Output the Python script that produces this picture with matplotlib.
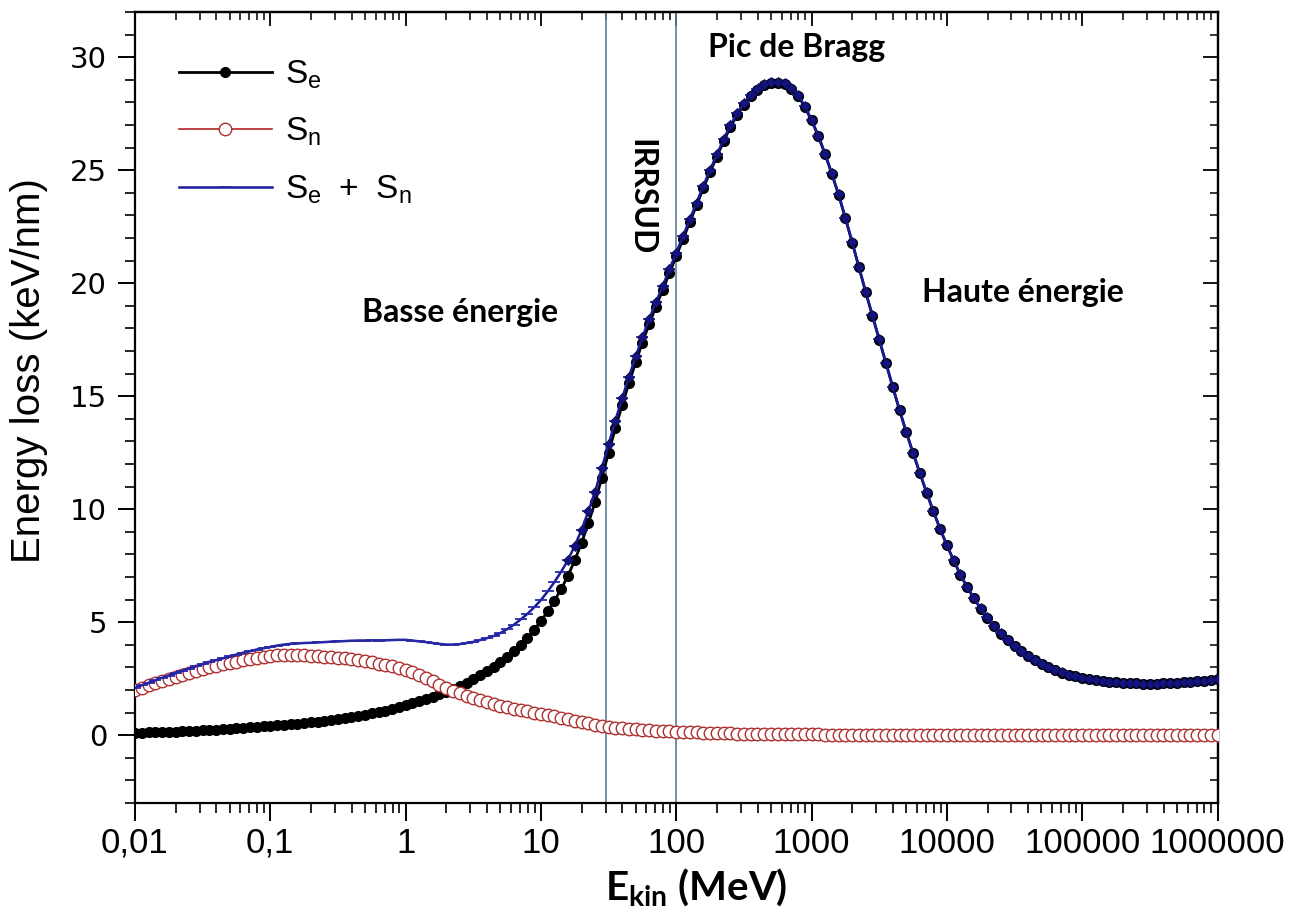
import numpy as np
import matplotlib
matplotlib.use("Agg")
import matplotlib.pyplot as plt
from matplotlib.ticker import FixedLocator, LogLocator, NullFormatter, MultipleLocator
from matplotlib.patches import Rectangle
import matplotlib.font_manager as fm

# ---------------- data ----------------
log_e_start, log_e_stop, n_points = -2.0, 6.0, 161
energy_mev = np.logspace(log_e_start, log_e_stop, n_points)   # 0.05-decade grid

se_kev_nm = [0.10, 0.11, 0.12, 0.13, 0.14, 0.15, 0.16, 0.175, 0.19, 0.205,
             0.22, 0.235, 0.25, 0.27, 0.29, 0.31, 0.33, 0.35, 0.37, 0.39,
             0.41, 0.435, 0.46, 0.485, 0.51, 0.54, 0.57, 0.605, 0.64, 0.68,
             0.72, 0.765, 0.81, 0.86, 0.91, 0.965, 1.02, 1.09, 1.16, 1.24,
             1.32, 1.41, 1.50, 1.60, 1.70, 1.81, 1.93, 2.05, 2.18, 2.33,
             2.48, 2.65, 2.82, 3.01, 3.22, 3.46, 3.72, 4.01, 4.32, 4.67,
             5.05, 5.48, 5.95, 6.48, 7.05, 7.75, 8.50, 9.38, 10.30, 11.40,
             12.50, 13.58, 14.60, 15.57, 16.50, 17.37, 18.20, 18.96, 19.70, 20.45,
             21.20, 21.95, 22.70, 23.45, 24.20, 24.92, 25.60, 26.28, 26.90, 27.45,
             27.90, 28.27, 28.55, 28.75, 28.85, 28.87, 28.80, 28.60, 28.30, 27.80,
             27.20, 26.50, 25.70, 24.83, 23.90, 22.87, 21.80, 20.70, 19.60, 18.55,
             17.50, 16.45, 15.40, 14.38, 13.40, 12.48, 11.60, 10.73, 9.90, 9.12,
             8.40, 7.73, 7.10, 6.55, 6.05, 5.60, 5.20, 4.83, 4.50, 4.21,
             3.95, 3.71, 3.50, 3.31, 3.15, 3.01, 2.88, 2.77, 2.68, 2.60,
             2.54, 2.49, 2.44, 2.40, 2.37, 2.34, 2.32, 2.30, 2.29, 2.28,
             2.28, 2.28, 2.29, 2.30, 2.32, 2.34, 2.36, 2.38, 2.41, 2.44,
             2.47]

sn_kev_nm = [2.00, 2.10, 2.20, 2.30, 2.40, 2.49, 2.58, 2.67, 2.76, 2.84,
             2.92, 3.00, 3.07, 3.14, 3.20, 3.26, 3.32, 3.37, 3.42, 3.46,
             3.50, 3.53, 3.55, 3.56, 3.55, 3.54, 3.52, 3.50, 3.48, 3.46,
             3.43, 3.40, 3.37, 3.33, 3.28, 3.23, 3.17, 3.11, 3.05, 2.98,
             2.90, 2.78, 2.65, 2.52, 2.38, 2.23, 2.08, 1.96, 1.85, 1.75,
             1.65, 1.56, 1.47, 1.38, 1.30, 1.23, 1.17, 1.11, 1.05, 0.99,
             0.93, 0.88, 0.83, 0.76, 0.70, 0.64, 0.58, 0.52, 0.47, 0.42,
             0.38, 0.34, 0.31, 0.28, 0.26, 0.24, 0.22, 0.20, 0.18, 0.165,
             0.15, 0.14, 0.13, 0.12, 0.11, 0.10, 0.095, 0.088, 0.08, 0.075,
             0.07, 0.065, 0.06, 0.055, 0.05, 0.048, 0.045, 0.042, 0.04, 0.038,
             0.035, 0.032, 0.030, 0.029, 0.028, 0.026, 0.025, 0.024, 0.022, 0.021,
             0.020, 0.019, 0.018, 0.017, 0.016, 0.015, 0.015, 0.014, 0.013, 0.012,
             0.012, 0.011, 0.011, 0.010, 0.010, 0.009, 0.009, 0.008, 0.008, 0.008,
             0.008, 0.007, 0.007, 0.007, 0.007, 0.006, 0.006, 0.006, 0.006, 0.005,
             0.005, 0.005, 0.005, 0.005, 0.005, 0.004, 0.004, 0.004, 0.004, 0.004,
             0.004, 0.003, 0.003, 0.003, 0.003, 0.003, 0.003, 0.003, 0.003, 0.003,
             0.003]

assert len(se_kev_nm) == n_points and len(sn_kev_nm) == n_points

# total stopping power = electronic + nuclear
total_kev_nm = [a + b for a, b in zip(se_kev_nm, sn_kev_nm)]

series_labels = [r'$\mathregular{S_e}$', r'$\mathregular{S_n}$', r'$\mathregular{S_e\ +\ S_n}$']
x_tick_values = [0.01, 0.1, 1, 10, 100, 1000, 10000, 100000, 1000000]
x_tick_labels = ['0,01', '0,1', '1', '10', '100', '1000', '10000', '100000', '1000000']
y_tick_values = [0, 5, 10, 15, 20, 25, 30]
irrsud_range = (30, 100)

# ---------------- fonts ----------------
avail = {f.name for f in fm.fontManager.ttflist}
narrow = 'Liberation Sans Narrow' if 'Liberation Sans Narrow' in avail else 'Liberation Sans'
annot_font = 'Lato' if 'Lato' in avail else 'DejaVu Sans'

plt.rcParams['font.family'] = ['Liberation Sans', 'DejaVu Sans']

fig = plt.figure(figsize=(12.98, 9.23), dpi=100)
ax = fig.add_axes([0.104, 0.13, 0.834, 0.857])

ax.set_xscale('log')
ax.set_xlim(0.01, 1e6)
ax.set_ylim(-3, 32)

# IRRSUD window
ax.add_patch(Rectangle((irrsud_range[0], 0), irrsud_range[1] - irrsud_range[0], 1,
                       transform=ax.get_xaxis_transform(), fill=False,
                       edgecolor='#5f7f95', linewidth=1.2, zorder=1))

ax.plot(energy_mev, se_kev_nm, color='black', lw=2.0, marker='o', ms=7,
        mfc='black', mec='black', zorder=3, label=series_labels[0])
ax.plot(energy_mev, sn_kev_nm, color='#b22222', lw=1.2, marker='o', ms=9,
        mfc='white', mec='#b03030', mew=1.0, zorder=4, label=series_labels[1])
ax.plot(energy_mev, total_kev_nm, color='#1a1a9c', lw=1.8, marker='_', ms=8,
        mew=1.3, mec='#2a2aa8', zorder=5, label=series_labels[2])
# dense navy symbols where S_e + S_n overlays S_e (high-energy part)
ax.plot(energy_mev, total_kev_nm, linestyle='none', marker='D', ms=5.5,
        mfc='#141480', mec='#0a0a50', mew=0.6, markevery=slice(64, None), zorder=6)

# ticks
ax.xaxis.set_major_locator(FixedLocator(x_tick_values))
ax.set_xticklabels(x_tick_labels)
ax.xaxis.set_minor_locator(LogLocator(base=10, subs=np.arange(2, 10), numticks=20))
ax.xaxis.set_minor_formatter(NullFormatter())
ax.yaxis.set_major_locator(FixedLocator(y_tick_values))
ax.yaxis.set_minor_locator(MultipleLocator(1))

ax.tick_params(axis='x', which='major', direction='out', length=13, width=1.4,
               labelsize=25, pad=4, top=False)
ax.tick_params(axis='x', which='minor', direction='out', length=7, width=1.2, top=False)
ax.tick_params(axis='y', which='major', direction='out', length=12, width=1.4,
               labelsize=21, pad=8, right=False)
ax.tick_params(axis='y', which='minor', direction='out', length=7, width=1.2, right=False)
for lab in ax.get_xticklabels():
    lab.set_family([narrow, 'DejaVu Sans'])
for lab in ax.get_yticklabels():
    lab.set_family(['DejaVu Sans'])

# inward ticks on top and right via secondary axes
secx = ax.secondary_xaxis('top')
secx.xaxis.set_major_locator(FixedLocator(x_tick_values))
secx.xaxis.set_minor_locator(LogLocator(base=10, subs=np.arange(2, 10), numticks=20))
secx.xaxis.set_major_formatter(NullFormatter())
secx.xaxis.set_minor_formatter(NullFormatter())
secx.tick_params(which='major', direction='in', length=10, width=1.3)
secx.tick_params(which='minor', direction='in', length=6, width=1.1)
secy = ax.secondary_yaxis('right')
secy.yaxis.set_major_locator(FixedLocator(y_tick_values))
secy.yaxis.set_minor_locator(MultipleLocator(1))
secy.yaxis.set_major_formatter(NullFormatter())
secy.tick_params(which='major', direction='in', length=11, width=1.3)
secy.tick_params(which='minor', direction='in', length=6, width=1.1)

for sp in ax.spines.values():
    sp.set_linewidth(1.6)
secx.spines['top'].set_linewidth(1.6)
secy.spines['right'].set_linewidth(1.6)

ax.set_ylabel('Energy loss (keV/nm)', fontsize=29)
ax.yaxis.set_label_coords(-0.080, 0.547)
ax.set_xlabel(r'$\mathregular{E_{kin}}$ (MeV)', fontsize=29, fontweight='bold',
              family=[annot_font, 'DejaVu Sans'])
ax.xaxis.set_label_coords(0.518, -0.080)

# annotations
afont = dict(fontsize=23, fontweight='bold', family=[annot_font, 'DejaVu Sans'])
ax.text(0.611, 0.955, 'Pic de Bragg', transform=ax.transAxes, ha='center', va='center', **afont)
ax.text(0.300, 0.620, 'Basse énergie', transform=ax.transAxes, ha='center', va='center', **afont)
ax.text(0.820, 0.645, 'Haute énergie', transform=ax.transAxes, ha='center', va='center', **afont)
ax.text(np.sqrt(irrsud_range[0] * irrsud_range[1]), 0.766, 'IRRSUD',
        transform=ax.get_xaxis_transform(), ha='center', va='center', rotation=-90, **afont)

leg = ax.legend(loc='upper left', bbox_to_anchor=(0.028, 0.958), frameon=False,
                fontsize=24, handlelength=2.8, handletextpad=0.4, labelspacing=0.75,
                borderaxespad=0)

fig.savefig('out.png', dpi=100)
